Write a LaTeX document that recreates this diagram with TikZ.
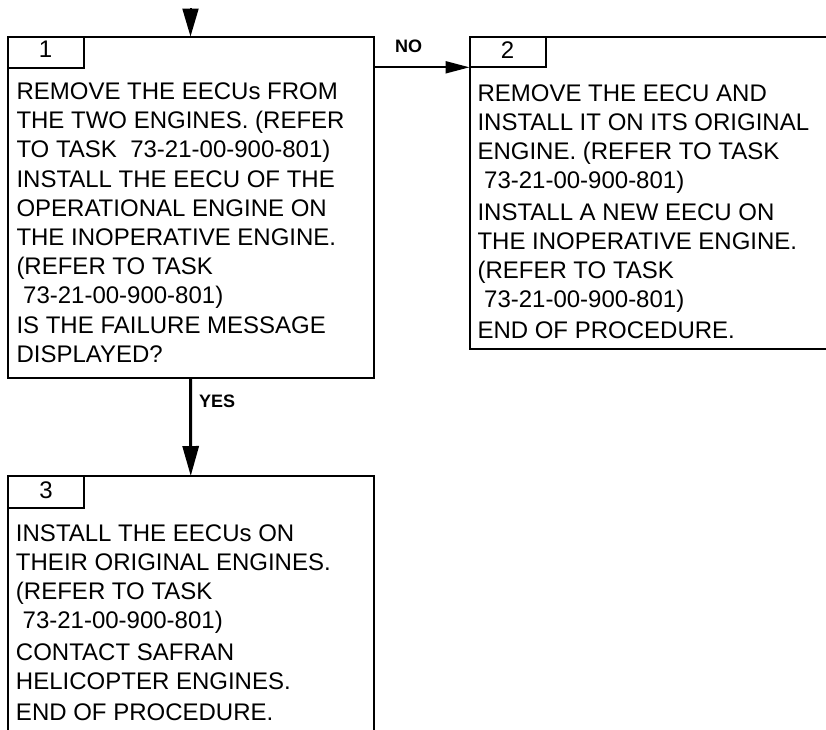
\documentclass[tikz,border=0pt]{standalone}
\usepackage{fontspec}
\setmainfont{Liberation Sans}
\usetikzlibrary{arrows.meta}
\begin{document}
\begin{tikzpicture}[x=1pt,y=-1pt,
  box/.style={draw, line width=2pt, rectangle, inner sep=0pt, outer sep=0pt, anchor=north west},
  body/.style={anchor=north west, inner sep=0pt, outer sep=0pt, align=left, font=\fontsize{24}{29}\selectfont},
  num/.style={anchor=base, inner sep=0pt, font=\fontsize{24}{29}\selectfont},
  lbl/.style={anchor=base west, inner sep=0pt, font=\fontsize{18}{20}\selectfont\bfseries},
  ]
\useasboundingbox (0,0) rectangle (826,729);
\clip (0,0) rectangle (826,729);

% box 1
\node[box, minimum width=366pt, minimum height=341pt] (b1) at (7.5,36.5) {};
\node[box, minimum width=76pt, minimum height=31pt] (t1) at (7.5,36.5) {};
\node[num] (n1) at (45.5,57.3) {1};
\node[body] (x1) at (16.5,79.0) {\strut REMOVE THE EECUs FROM\\
THE TWO ENGINES. (REFER\\
TO TASK\ \ 73-21-00-900-801)\\[1.2pt]
INSTALL THE EECU OF THE\\
OPERATIONAL ENGINE ON\\
THE INOPERATIVE ENGINE.\\
(REFER TO TASK\\
\hspace*{0.278em}73-21-00-900-801)\\[1.2pt]
IS THE FAILURE MESSAGE\\
DISPLAYED?};

% box 2
\node[box, minimum width=370pt, minimum height=312.5pt] (b2) at (469.5,36.7) {};
\node[box, minimum width=76pt, minimum height=30.6pt] (t2) at (469.5,36.7) {};
\node[num] (n2) at (507.5,58) {2};
\node[body] (x2) at (477.5,81.4) {\strut REMOVE THE EECU AND\\
INSTALL IT ON ITS ORIGINAL\\
ENGINE. (REFER TO TASK\\
\hspace*{0.278em}73-21-00-900-801)\\[2.5pt]
INSTALL A NEW EECU ON\\
THE INOPERATIVE ENGINE.\\
(REFER TO TASK\\
\hspace*{0.278em}73-21-00-900-801)\\[2.5pt]
END OF PROCEDURE.};

% box 3
\node[box, minimum width=366.5pt, minimum height=270pt] (b3) at (7.5,476) {};
\node[box, minimum width=76.5pt, minimum height=32pt] (t3) at (7.5,476) {};
\node[num] (n3) at (46,498.3) {3};
\node[body] (x3) at (16,521.4) {\strut INSTALL THE EECUs ON\\
THEIR ORIGINAL ENGINES.\\
(REFER TO TASK\\
\hspace*{0.278em}73-21-00-900-801)\\[2.6pt]
CONTACT SAFRAN\\
HELICOPTER ENGINES.\\[2.6pt]
END OF PROCEDURE.};

% connectors
\coordinate (src) at (190.5,8);
\draw[line width=2pt, -{Triangle[length=28pt,width=16pt]}] (src) -- (b1.north);
\draw[line width=3pt, -{Triangle[length=30pt,width=16pt]}] (b1.south) -- (b3.north);
\draw[line width=2pt, -{Triangle[length=24pt,width=12pt]}] (b1.east |- t2.south west) -- (t2.south west);

\node[lbl] (no) at (395,52.7) {NO};
\node[lbl] (yes) at (199,407.7) {YES};
\end{tikzpicture}
\end{document}
